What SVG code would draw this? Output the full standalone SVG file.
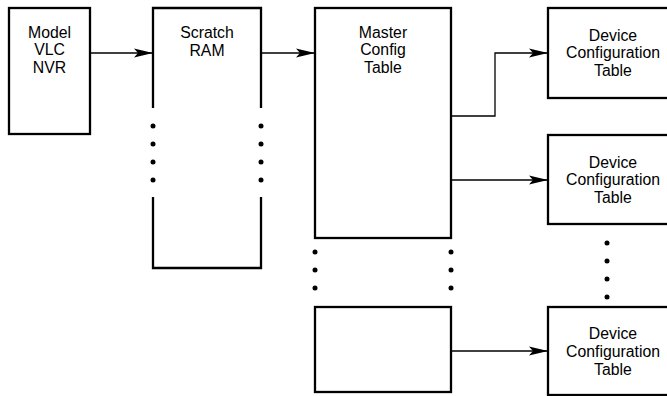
<svg xmlns="http://www.w3.org/2000/svg" width="667" height="396" viewBox="0 0 667 396">
<style>
.box{fill:#fff;stroke:#000;stroke-width:2.3}
.side{fill:none;stroke:#000;stroke-width:2.3}
.t{font-family:"Liberation Sans",Arial,sans-serif;font-size:15.8px;text-anchor:middle;fill:#000}
.c{fill:none;stroke:#000;stroke-width:1.3}
.dot{fill:#000}
</style>
<defs>
<marker id="ah" markerUnits="userSpaceOnUse" markerWidth="20" markerHeight="12" refX="19" refY="6" orient="auto">
<path d="M0,1.5 L19,6 L0,10.5 L4,6 Z" fill="#000"/>
</marker>
</defs>
<rect width="667" height="396" fill="#fff"/>
<g id="model">
<rect class="box" x="9" y="8" width="81" height="126"/>
<text class="t" x="49.5" y="37.7">Model</text>
<text class="t" x="49.5" y="55.4">VLC</text>
<text class="t" x="49.5" y="73">NVR</text>
</g>
<g id="scratch">
<path class="side" d="M153,108 V8 H261 V108 M153,197 V268 H261 V197"/>
<g class="dot">
<circle cx="153" cy="126" r="2.5"/><circle cx="153" cy="144" r="2.5"/><circle cx="153" cy="162" r="2.5"/><circle cx="153" cy="180" r="2.5"/>
<circle cx="261" cy="126" r="2.5"/><circle cx="261" cy="144" r="2.5"/><circle cx="261" cy="162" r="2.5"/><circle cx="261" cy="180" r="2.5"/>
</g>
<text class="t" x="207" y="38">Scratch</text>
<text class="t" x="207" y="56">RAM</text>
</g>
<g id="master">
<rect class="box" x="315" y="8" width="136" height="230"/>
<text class="t" x="383" y="37.7">Master</text>
<text class="t" x="383" y="55.4">Config</text>
<text class="t" x="383" y="73">Table</text>
</g>
<g id="master-dots" class="dot">
<circle cx="315" cy="252" r="2.5"/><circle cx="315" cy="270" r="2.5"/><circle cx="315" cy="288" r="2.5"/>
<circle cx="451" cy="252" r="2.5"/><circle cx="451" cy="270" r="2.5"/><circle cx="451" cy="288" r="2.5"/>
</g>
<g id="master-n">
<rect class="box" x="315" y="307" width="136" height="85"/>
</g>
<g id="device1">
<rect class="box" x="548" y="8" width="130" height="90"/>
<text class="t" x="613" y="40.5">Device</text>
<text class="t" x="613" y="58.2">Configuration</text>
<text class="t" x="613" y="76">Table</text>
</g>
<g id="device2">
<rect class="box" x="548" y="135" width="130" height="89"/>
<text class="t" x="613" y="167.5">Device</text>
<text class="t" x="613" y="185.2">Configuration</text>
<text class="t" x="613" y="203">Table</text>
</g>
<g id="device-dots" class="dot">
<circle cx="607" cy="243" r="2.5"/><circle cx="607" cy="261" r="2.5"/><circle cx="607" cy="279" r="2.5"/><circle cx="607" cy="297" r="2.5"/>
</g>
<g id="device3">
<rect class="box" x="548" y="307" width="130" height="88"/>
<text class="t" x="613" y="339">Device</text>
<text class="t" x="613" y="356.7">Configuration</text>
<text class="t" x="613" y="374.5">Table</text>
</g>
<g id="connectors">
<path class="c" d="M90,53 H153" marker-end="url(#ah)"/>
<path class="c" d="M261,53 H315" marker-end="url(#ah)"/>
<path class="c" d="M451,116 H495 V53 H548" marker-end="url(#ah)"/>
<path class="c" d="M451,180 H548" marker-end="url(#ah)"/>
<path class="c" d="M451,351 H548" marker-end="url(#ah)"/>
</g>
</svg>
